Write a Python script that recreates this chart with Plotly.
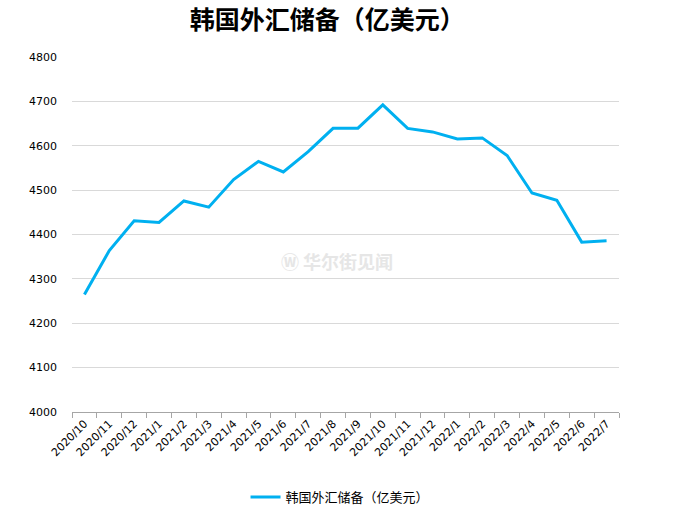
import plotly.graph_objects as go

months = ['2020/10', '2020/11', '2020/12', '2021/1', '2021/2', '2021/3', '2021/4', '2021/5',
          '2021/6', '2021/7', '2021/8', '2021/9', '2021/10', '2021/11', '2021/12', '2022/1',
          '2022/2', '2022/3', '2022/4', '2022/5', '2022/6', '2022/7']
reserves = [4264.9, 4363.8, 4431.0, 4427.3, 4475.6, 4461.6, 4523.7, 4564.8,
            4541.0, 4586.8, 4639.3, 4639.7, 4692.1, 4639.1, 4631.2, 4615.3,
            4617.7, 4578.1, 4493.5, 4477.1, 4382.8, 4386.1]
y_ticks = [4000, 4100, 4200, 4300, 4400, 4500, 4600, 4700, 4800]

series_name = '韩国外汇储备（亿美元）'
font_cjk = 'Noto Sans CJK SC'

fig = go.Figure()
fig.add_trace(go.Scatter(x=months, y=reserves, mode='lines', name=series_name,
                         line=dict(color='#00B0F0', width=3)))

fig.update_layout(
    width=676, height=523,
    margin=dict(l=72, r=57, t=57, b=110),
    paper_bgcolor='white', plot_bgcolor='white',
    font=dict(family=font_cjk, size=11, color='#000000'),
    title=dict(text='<b>韩国外汇储备（亿美元）</b>', x=0.484, xanchor='center', y=0.962, yanchor='middle',
               font=dict(family=font_cjk, size=25, color='#000000')),
    showlegend=True,
    legend=dict(orientation='h', x=0.49, xanchor='center', y=-0.236, yanchor='middle',
                font=dict(family=font_cjk, size=13, color='#000000')),
    annotations=[dict(text='<b>Ⓦ 华尔街见闻</b>', x=0.484, y=0.424, xref='paper', yref='paper',
                      showarrow=False, font=dict(family=font_cjk, size=18, color='#E6E6E6'))],
)

fig.update_xaxes(type='category', range=[-0.5, len(months) - 0.5], showgrid=False,
                 showline=True, linecolor='#A6A6A6', linewidth=1,
                 ticks='outside', tickson='boundaries', ticklen=5, tickcolor='#A6A6A6',
                 tickangle=-45, tickfont=dict(family='DejaVu Sans', size=11, color='#000000'))
fig.update_yaxes(range=[4000, 4800], tickvals=y_ticks, showgrid=True, gridcolor='#D9D9D9', gridwidth=1,
                 zeroline=False, showline=False, ticklabelstandoff=14,
                 tickfont=dict(family='DejaVu Sans', size=11, color='#000000'))

fig.write_html("out.html", config={'displayModeBar': False},
               post_script="document.body.style.margin='0';")
